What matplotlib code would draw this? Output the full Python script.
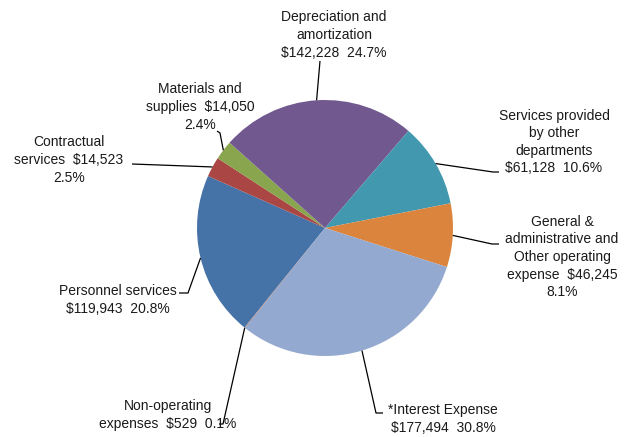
import numpy as np
import matplotlib
matplotlib.use('Agg')
import matplotlib.pyplot as plt

plt.rcParams['font.family'] = ['Liberation Sans', 'DejaVu Sans']

# Expense categories, in drawing order (clockwise)
categories = ['Personnel services', 'Contractual services', 'Materials and supplies',
              'Depreciation and amortization', 'Services provided by other departments',
              'General & administrative and Other operating expense', '*Interest Expense',
              'Non-operating expenses']
amounts = [119943, 14523, 14050, 142228, 61128, 46245, 177494, 529]
percents = [20.8, 2.5, 2.4, 24.7, 10.6, 8.1, 30.8, 0.1]

colors = ['#4572A7', '#AA4643', '#89A54E', '#71588F', '#4198AF', '#DB843D', '#93A9CF', '#A47D7C']

# label text: name, amount and share, broken into lines
label_texts = [
    'Personnel services\n${:,}  {}%',
    'Contractual\nservices  ${:,}\n{}%',
    'Materials and\nsupplies  ${:,}\n{}%',
    'Depreciation and\namortization\n${:,}  {}%',
    'Services provided\nby other\ndepartments\n${:,}  {}%',
    'General &\nadministrative and\nOther operating\nexpense  ${:,}\n{}%',
    '*Interest Expense\n${:,}  {}%',
    'Non-operating\nexpenses  ${:,}  {}%',
]

W, H = 631, 437
fig = plt.figure(figsize=(W / 100, H / 100), dpi=100)
ax = fig.add_axes([0, 0, 1, 1])

cx, cy, r = 325, 209, 128
wedges, _ = ax.pie(amounts, colors=colors, startangle=231, counterclock=False,
                   center=(cx, cy), radius=r,
                   wedgeprops=dict(linewidth=0))

# label centre positions and leader-line bends (pixels, y up)
label_pos = [(118, 137), (69, 277), (200, 330), (334, 402),
             (554, 295), (562, 180), (443, 18), (168, 22)]
leader_bends = [
    [(188, 144), (179, 144)],
    [(132, 273)],
    [(220, 304), (217, 306)],
    [(320, 376)],
    [(493, 265), (499, 265)],
    [(492, 193), (499, 193)],
    [(376, 24), (383, 24)],
    [(223, 13), (219, 13)],
]

for w, txt, amt, pct, pos, bends in zip(wedges, label_texts, amounts, percents,
                                        label_pos, leader_bends):
    mid = np.radians((w.theta1 + w.theta2) / 2)
    x0, y0 = cx + r * np.cos(mid), cy + r * np.sin(mid)
    xs = [x0] + [b[0] for b in bends]
    ys = [y0] + [b[1] for b in bends]
    ax.plot(xs, ys, color='black', lw=0.9, solid_capstyle='butt', zorder=3)
    ax.text(pos[0], pos[1], txt.format(amt, pct), ha='center', va='center',
            fontsize=10, color='#1a1a1a', linespacing=1.32, zorder=4)

ax.set_xlim(0, W)
ax.set_ylim(0, H)
ax.set_aspect('equal')
ax.axis('off')

fig.savefig('out.png', dpi=100)
